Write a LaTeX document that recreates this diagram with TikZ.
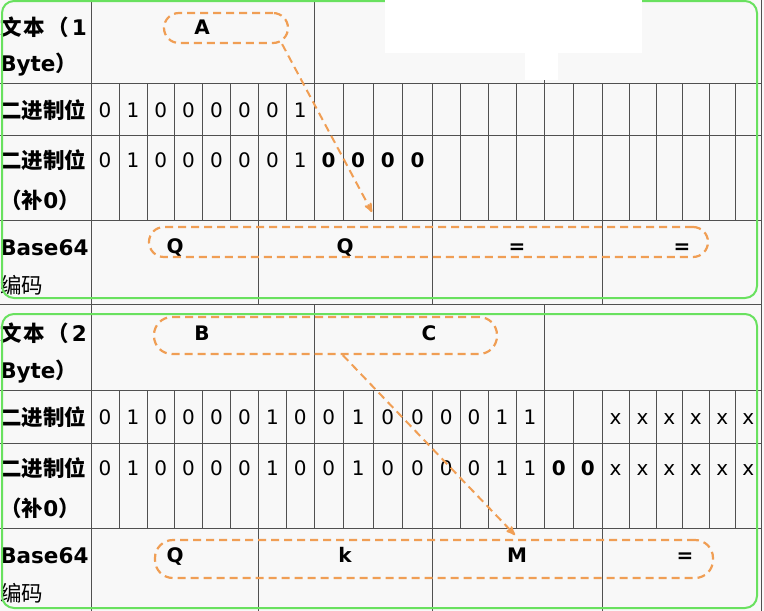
\documentclass[tikz,border=0pt]{standalone}
\usepackage{fontspec}
\setmainfont{DejaVu Sans}
\newfontfamily\cjk{Noto Sans CJK SC}
\usepackage{tikz}
\usetikzlibrary{positioning,arrows,calc}

\definecolor{rulegray}{RGB}{80,80,80}
\definecolor{pillorange}{RGB}{240,158,84}
\definecolor{framegreen}{RGB}{105,225,95}
\definecolor{paper}{RGB}{248,248,248}

\begin{document}
\begin{tikzpicture}[x=1pt,y=-1pt,>=stealth',semithick]
  \tikzstyle{rule}=[draw=rulegray,line width=1pt]
  \tikzstyle{bit}=[inner sep=0pt,text height=14.6pt,text depth=0pt,
                   font=\fontsize{20}{20}\selectfont]
  \tikzstyle{padbit}=[bit,font=\fontsize{20}{20}\selectfont\bfseries]
  \tikzstyle{letter}=[padbit]
  \tikzstyle{rowname}=[anchor=west,inner sep=0pt,text height=16pt,text depth=0pt,
                       font=\fontsize{21.5}{21.5}\selectfont\bfseries]
  \tikzstyle{pill}=[draw=pillorange,dash pattern=on 8pt off 5pt,line width=2.2pt,
                    inner sep=0pt]
  \tikzstyle{greenframe}=[draw=framegreen,line width=2pt,rounded corners=12pt]
  \tikzstyle{link}=[->,draw=pillorange,dash pattern=on 8pt off 5pt,line width=2pt]

  \useasboundingbox (0,0) rectangle (764,611);
  \fill[paper] (0,0) rectangle (764,611);

  % table rules
  \foreach \y in {83,135,220,304,390,443,528}
    \draw[rule] (0,\y) -- (761,\y);
  \draw[rule] (91,0) -- (91,611);
  \draw[rule] (761,0) -- (761,611);
  \foreach \x in {314,544} {
    \draw[rule] (\x,0) -- (\x,83);
    \draw[rule] (\x,304) -- (\x,390);
  }
  \foreach \x in {119,147,174.5,202.5,230.5,258.5,286.5,314,343.3,373,402.7,
                  432.3,460,488,516,544,573.5,602,629,656,682.5,709,735.5} {
    \draw[rule] (\x,83) -- (\x,220);
    \draw[rule] (\x,390) -- (\x,528);
  }
  \foreach \x in {258.5,432.3,602} {
    \draw[rule] (\x,220) -- (\x,304);
    \draw[rule] (\x,528) -- (\x,611);
  }

  % column centres
  \foreach \l/\r [count=\i] in {91/119,119/147,147/174.5,174.5/202.5,202.5/230.5,
        230.5/258.5,258.5/286.5,286.5/314,314/343.3,343.3/373,373/402.7,402.7/432.3,
        432.3/460,460/488,488/516,516/544,544/573.5,573.5/602,602/629,629/656,
        656/682.5,682.5/709,709/735.5,735.5/761}
    \coordinate (col\i) at ({(\l+\r)/2},0);

  % row names
  \node[rowname] (txtone)   at (0,27)  {{\cjk 文\hspace{2pt}本\hspace{2pt}（}\hspace{3pt}1};
  \node[rowname] (byteone)  at (0,63)  {Byte{\cjk ）}};
  \node[rowname] (binone)   at (0,110) {\cjk 二进制位};
  \node[rowname] (padone)   at (0,160) {\cjk 二进制位};
  \node[rowname] (zeroone)  at (0,200) {{\cjk （补}0{\cjk ）}};
  \node[rowname] (baseone)  at (0,247) {Base64};
  \node[rowname] (codeone)  at (0,285) {\cjk\mdseries 编码};
  \node[rowname] (txttwo)   at (0,333) {{\cjk 文\hspace{2pt}本\hspace{2pt}（}\hspace{3pt}2};
  \node[rowname] (bytetwo)  at (0,370) {Byte{\cjk ）}};
  \node[rowname] (bintwo)   at (0,417) {\cjk 二进制位};
  \node[rowname] (padtwo)   at (0,468) {\cjk 二进制位};
  \node[rowname] (zerotwo)  at (0,508) {{\cjk （补}0{\cjk ）}};
  \node[rowname] (basetwo)  at (0,555) {Base64};
  \node[rowname] (codetwo)  at (0,593) {\cjk\mdseries 编码};

  % one byte
  \foreach \b [count=\i] in {0,1,0,0,0,0,0,1} {
    \node[bit] (onebit\i) at ($(col\i)+(0,110)$) {\b};
    \node[bit] (onepad\i) at ($(col\i)+(0,160)$) {\b};
  }
  \foreach \i in {9,...,12}
    \node[padbit] (onepad\i) at ($(col\i)+(0,160)$) {0};

  % two bytes
  \foreach \b [count=\i] in {0,1,0,0,0,0,1,0,0,1,0,0,0,0,1,1} {
    \node[bit] (twobit\i) at ($(col\i)+(0,417)$) {\b};
    \node[bit] (twopad\i) at ($(col\i)+(0,468)$) {\b};
  }
  \foreach \i in {17,18}
    \node[padbit] (twopad\i) at ($(col\i)+(0,468)$) {0};
  \foreach \i in {19,...,24} {
    \node[bit] (twobit\i) at ($(col\i)+(0,417)$) {x};
    \node[bit] (twopad\i) at ($(col\i)+(0,468)$) {x};
  }

  % characters
  \node[letter] (chA)  at (202,27)  {A};
  \node[letter] (chQa) at (175,246) {Q};
  \node[letter] (chQb) at (345,246) {Q};
  \node[letter] (eqa)  at (517,246) {=};
  \node[letter] (eqb)  at (682,246) {=};
  \node[letter] (chB)  at (202,333) {B};
  \node[letter] (chC)  at (429,333) {C};
  \node[letter] (chQc) at (175,555) {Q};
  \node[letter] (chk)  at (345,555) {k};
  \node[letter] (chM)  at (517,555) {M};
  \node[letter] (eqc)  at (685,555) {=};

  % frames
  \draw[greenframe] (2,1) rectangle (757,298);
  \draw[greenframe] (2,314) rectangle (757,608);

  % groups
  \node[pill,rounded corners=15pt,minimum width=124pt,minimum height=30pt]
    (pillA) at (226,28) {};
  \node[pill,rounded corners=15pt,minimum width=559pt,minimum height=30pt]
    (pillQQ) at (428.5,242) {};
  \node[pill,rounded corners=18pt,minimum width=343pt,minimum height=37pt]
    (pillBC) at (325.5,335.5) {};
  \node[pill,rounded corners=18pt,minimum width=558pt,minimum height=38pt]
    (pillQk) at (434,559) {};

  \coordinate (tipA) at (372,212);
  \coordinate (tipM) at (515,535);
  \draw[link] ([xshift=-7pt]pillA.south east) -- (tipA);
  \draw[link] ($(pillBC.south west)!0.55!(pillBC.south east)$) -- (tipM);

  % blanked area
  \fill[white] (385,0) rectangle (642,53);
  \fill[white] (525,53) rectangle (558,80);
\end{tikzpicture}
\end{document}
